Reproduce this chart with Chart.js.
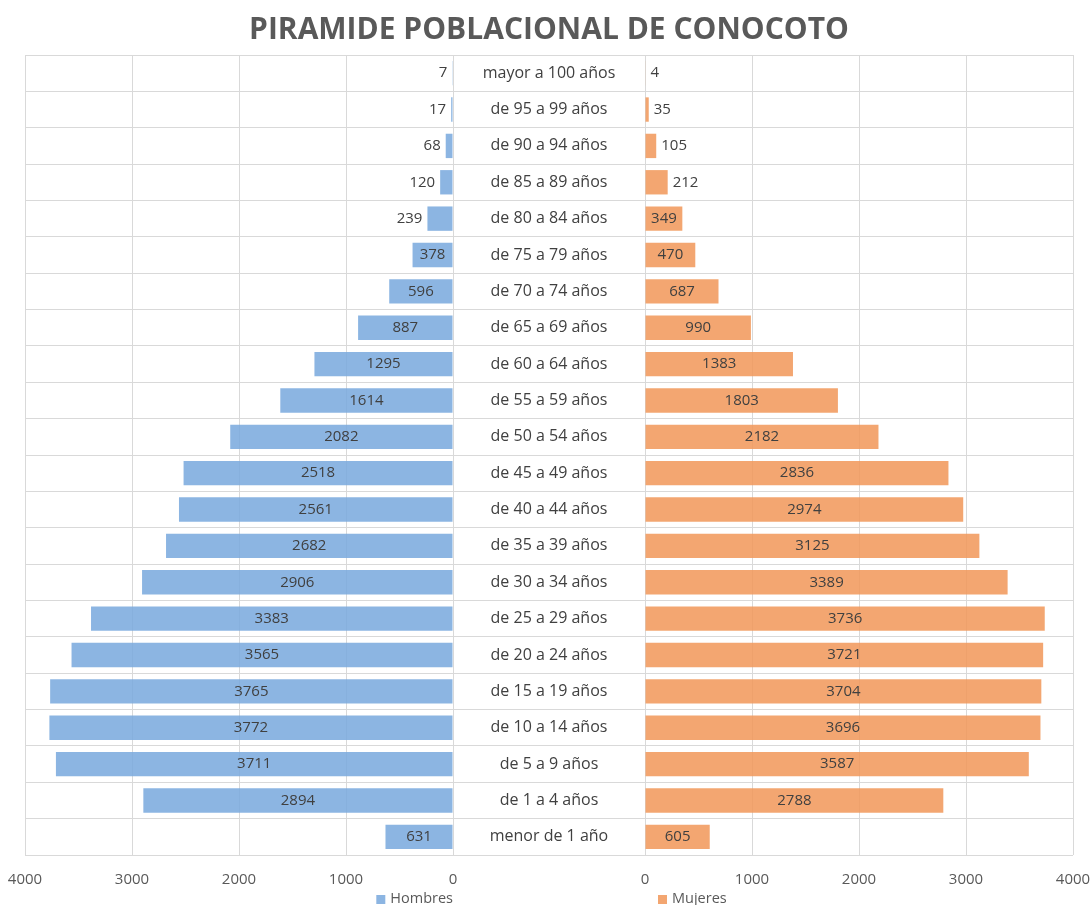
<!DOCTYPE html>
<html>
<head>
<meta charset="utf-8">
<title>Piramide poblacional de Conocoto</title>
<script src="https://cdn.jsdelivr.net/npm/chart.js@4.4.0/dist/chart.umd.min.js"></script>
<style>
  html, body { margin: 0; padding: 0; background: #ffffff; }
  #piramide { display: block; }
</style>
</head>
<body>
<canvas id="piramide" width="1090" height="905"></canvas>
<script>
// grupos de edad, de arriba hacia abajo
const edades = [
    'mayor a 100 años', 'de 95 a 99 años', 'de 90 a 94 años', 'de 85 a 89 años',
    'de 80 a 84 años', 'de 75 a 79 años', 'de 70 a 74 años', 'de 65 a 69 años',
    'de 60 a 64 años', 'de 55 a 59 años', 'de 50 a 54 años', 'de 45 a 49 años',
    'de 40 a 44 años', 'de 35 a 39 años', 'de 30 a 34 años', 'de 25 a 29 años',
    'de 20 a 24 años', 'de 15 a 19 años', 'de 10 a 14 años', 'de 5 a 9 años',
    'de 1 a 4 años', 'menor de 1 año'
];
const hombres = [7, 17, 68, 120, 239, 378, 596, 887, 1295, 1614, 2082, 2518,
                 2561, 2682, 2906, 3383, 3565, 3765, 3772, 3711, 2894, 631];
const mujeres = [4, 35, 105, 212, 349, 470, 687, 990, 1383, 1803, 2182, 2836,
                 2974, 3125, 3389, 3736, 3721, 3704, 3696, 3587, 2788, 605];
const ejeMax = 4000;
const ejePaso = 1000;

const colorHombres = 'rgba(120, 168, 221, 0.85)';
const colorMujeres = 'rgba(241, 151, 88, 0.85)';
const gris = '#595959';
const grisTexto = '#404040';
const fuente = '"Open Sans", "DejaVu Sans", sans-serif';

function sinPadding(eje) {
    eje.paddingLeft = 0;
    eje.paddingRight = 0;
}

// nombres de grupos en el centro, valores de cada barra y leyendas
const etiquetas = {
    id: 'etiquetas',
    afterDatasetsDraw(chart) {
        const ctx = chart.ctx;
        const ejeY = chart.scales.y;
        const centro = chart.scales.xm;
        ctx.save();
        ctx.textBaseline = 'middle';
        ctx.fillStyle = grisTexto;

        ctx.font = '16px ' + fuente;
        ctx.textAlign = 'center';
        edades.forEach(function(e, i) {
            ctx.fillText(e, (centro.left + centro.right) / 2, ejeY.getPixelForValue(i));
        });

        ctx.font = '15px ' + fuente;
        chart.data.datasets.forEach(function(ds, d) {
            const meta = chart.getDatasetMeta(d);
            meta.data.forEach(function(barra, i) {
                const txt = String(ds.data[i]);
                const w = ctx.measureText(txt).width;
                const ancho = Math.abs(barra.x - barra.base);
                if (ancho >= w + 6) {
                    ctx.textAlign = 'center';
                    ctx.fillText(txt, (barra.x + barra.base) / 2, barra.y);
                } else if (d === 0) {
                    ctx.textAlign = 'right';
                    ctx.fillText(txt, barra.x - 5, barra.y);
                } else {
                    ctx.textAlign = 'left';
                    ctx.fillText(txt, barra.x + 5, barra.y);
                }
            });
        });
        ctx.restore();
    },
    afterDraw(chart) {
        const ctx = chart.ctx;
        const izq = chart.scales.xh;
        const der = chart.scales.xw;
        const yLey = 899;
        ctx.save();
        ctx.font = '14.5px ' + fuente;
        ctx.textBaseline = 'middle';
        ctx.textAlign = 'left';

        const wH = ctx.measureText('Hombres').width;
        const xH = izq.right - wH;
        ctx.fillStyle = colorHombres;
        ctx.fillRect(xH - 14, yLey - 4, 9, 9);
        ctx.fillStyle = gris;
        ctx.fillText('Hombres', xH, yLey);

        const xM = der.left + 27;
        ctx.fillStyle = colorMujeres;
        ctx.fillRect(xM - 14, yLey - 4, 9, 9);
        ctx.fillStyle = gris;
        ctx.fillText('Mujeres', xM, yLey);
        ctx.restore();
    }
};

const ejeX = function(invertido) {
    return {
        type: 'linear',
        position: 'bottom',
        stack: 'abajo',
        stackWeight: 428,
        reverse: invertido,
        min: 0,
        max: ejeMax,
        afterFit: sinPadding,
        border: { display: false },
        grid: { color: '#d9d9d9', drawTicks: false },
        ticks: {
            stepSize: ejePaso,
            padding: 16,
            color: gris,
            font: { family: fuente, size: 15 },
            callback: function(v) { return String(v); }
        }
    };
};

const ctx = document.getElementById('piramide').getContext('2d');
new Chart(ctx, {
    type: 'bar',
    data: {
        labels: edades,
        datasets: [{
            label: 'Hombres',
            data: hombres,
            xAxisID: 'xh',
            backgroundColor: colorHombres,
            grouped: false,
            barPercentage: 0.67,
            categoryPercentage: 1
        }, {
            label: 'Mujeres',
            data: mujeres,
            xAxisID: 'xw',
            backgroundColor: colorMujeres,
            grouped: false,
            barPercentage: 0.67,
            categoryPercentage: 1
        }]
    },
    options: {
        indexAxis: 'y',
        responsive: false,
        animation: false,
        devicePixelRatio: 1,
        layout: { padding: { left: 25, right: 17, top: 0, bottom: 0 } },
        plugins: {
            legend: { display: false },
            tooltip: { enabled: false },
            title: {
                display: true,
                fullSize: false,
                text: 'PIRAMIDE POBLACIONAL DE CONOCOTO',
                color: gris,
                font: { family: fuente, size: 30, weight: 'bold' },
                padding: { top: 12, bottom: 7 }
            }
        },
        scales: {
            y: {
                type: 'category',
                offset: true,
                border: { display: false },
                grid: { color: '#d9d9d9', drawTicks: false, offset: true },
                ticks: { display: false }
            },
            xh: ejeX(true),
            xm: {
                type: 'linear',
                position: 'bottom',
                stack: 'abajo',
                stackWeight: 192,
                min: 0,
                max: 1,
                afterFit: sinPadding,
                border: { display: false },
                grid: { display: false },
                ticks: { display: false }
            },
            xw: ejeX(false)
        }
    },
    plugins: [etiquetas]
});
</script>
</body>
</html>
